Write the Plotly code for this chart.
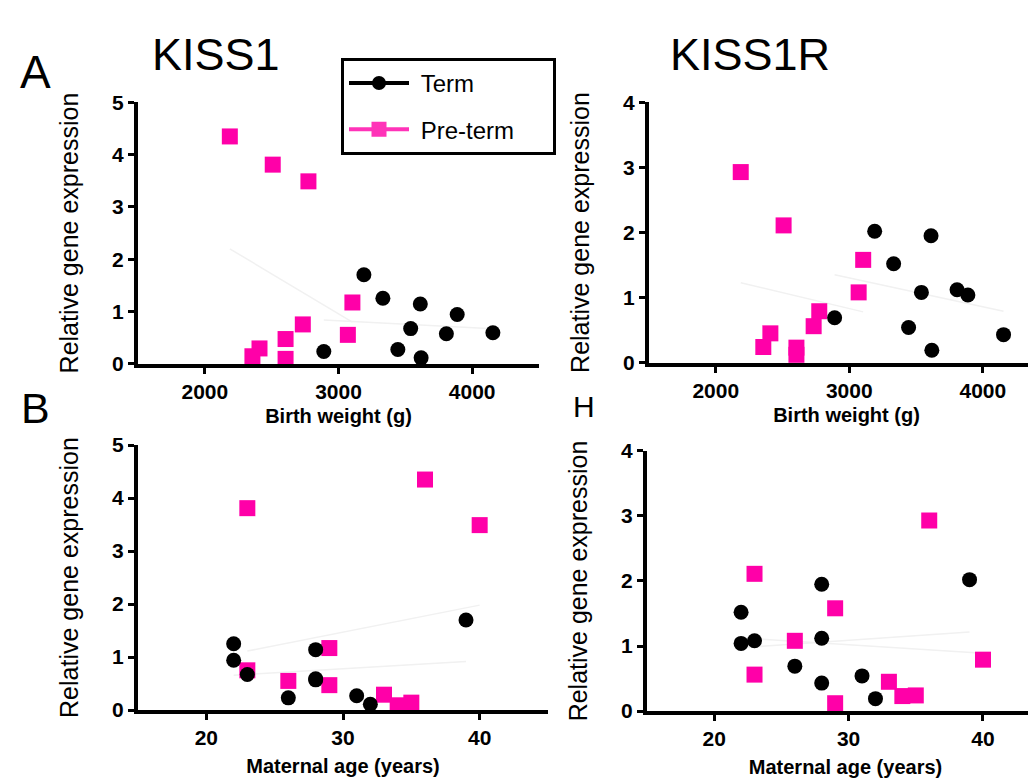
import numpy as np
import plotly.graph_objects as go

# ---- data (per sample) ----
term_bw = [3190, 3332, 3612, 3888, 3540, 3807, 4155, 3444, 3618, 2890]
term_age = [39, 22, 28, 22, 23, 28, 28, 31, 32, 26]
term_kiss1 = [1.70, 1.25, 1.14, 0.94, 0.67, 0.57, 0.59, 0.27, 0.11, 0.23]
term_kiss1r = [2.02, 1.52, 1.95, 1.04, 1.08, 1.12, 0.43, 0.54, 0.19, 0.69]

pre_bw = [2187, 2508, 2775, 3104, 3070, 2733, 2604, 2604, 2409, 2356]
pre_age = [36, 23, 40, 29, 26, 23, 29, 34, 33, 35]
pre_kiss1 = [4.35, 3.81, 3.49, 1.17, 0.55, 0.75, 0.47, 0.09, 0.29, 0.14]
pre_kiss1r = [2.93, 2.11, 0.79, 1.58, 1.08, 0.56, 0.12, 0.23, 0.45, 0.24]

bw_ticks = [2000, 3000, 4000]
age_ticks = [20, 30, 40]

W, H = 1036, 781
PINK = "#FF00A8"
FONT = "Liberation Sans, Arial, sans-serif"
NB = "\u00a0"

fig = go.Figure()

def px_x(p):
    return p / W

def px_y(p):
    return 1 - p / H

panels = [
    ("x", "y", (term_bw, pre_bw), (term_kiss1, pre_kiss1), [1500, 4500], [0, 5],
     (130, 531), (85, 354), "Birth weight (g)", bw_ticks, [0, 1, 2, 3, 4, 5], 8),
    ("x2", "y2", (term_bw, pre_bw), (term_kiss1r, pre_kiss1r), [1500, 4458], [0, 4],
     (641, 1036), (85, 353), "Birth weight (g)", bw_ticks, [0, 1, 2, 3, 4], 8),
    ("x3", "y3", (term_age, pre_age), (term_kiss1, pre_kiss1), [15, 45], [0, 5],
     (130, 540), (438, 711), "Maternal age (years)", age_ticks, [0, 1, 2, 3, 4, 5], 12),
    ("x4", "y4", (term_age, pre_age), (term_kiss1r, pre_kiss1r), [15, 44.54], [0, 4],
     (639, 1036), (444, 712), "Maternal age (years)", age_ticks, [0, 1, 2, 3, 4], 12),
]

for i, (xa, ya, xs, ys, xr, yr, xd, yd, xt, xtk, ytk, xso) in enumerate(panels):
    # faint regression lines
    for xv, yv in zip(xs, ys):
        xv = np.array(xv, float)
        yv = np.array(yv, float)
        m, b = np.polyfit(xv, yv, 1)
        lx = np.array([xv.min(), xv.max()])
        fig.add_trace(go.Scatter(x=lx, y=m * lx + b, mode="lines",
                                 line=dict(color="#f1f1f1", width=1.5),
                                 xaxis=xa, yaxis=ya, showlegend=False, hoverinfo="skip"))
    fig.add_trace(go.Scatter(x=xs[1], y=ys[1], mode="markers",
                             marker=dict(symbol="square", size=16, color=PINK),
                             xaxis=xa, yaxis=ya, showlegend=False, cliponaxis=False))
    fig.add_trace(go.Scatter(x=xs[0], y=ys[0], mode="markers",
                             marker=dict(symbol="circle", size=15, color="black"),
                             xaxis=xa, yaxis=ya, showlegend=False, cliponaxis=False))

    sfx = "" if i == 0 else str(i + 1)
    fig.layout["xaxis" + sfx] = dict(
        domain=[px_x(xd[0]), px_x(xd[1])], range=xr, anchor=ya,
        showline=True, linewidth=4, linecolor="black", mirror=False,
        ticks="outside", ticklen=6, tickwidth=3, tickcolor="black",
        tickvals=xtk, showgrid=False, zeroline=False,
        tickfont=dict(family=FONT, size=21, color="black", weight="bold"),
        title=dict(text="<b>" + xt + "</b>", standoff=xso,
                   font=dict(family=FONT, size=20, color="black")),
    )
    fig.layout["yaxis" + sfx] = dict(
        domain=[px_y(yd[1]), px_y(yd[0])], range=yr, anchor=xa,
        showline=True, linewidth=4, linecolor="black",
        ticks="outside", ticklen=6, tickwidth=3, tickcolor="black",
        tickvals=ytk, showgrid=False, zeroline=False,
        tickfont=dict(family=FONT, size=21, color="black", weight="bold"),
        title=dict(text="Relative gene expression", standoff=27,
                   font=dict(family=FONT, size=25, color="black")),
    )

# legend-only traces
fig.add_trace(go.Scatter(x=[None], y=[None], mode="lines+markers",
                         name=NB + "Term" + NB * 11,
                         line=dict(color="black", width=4),
                         marker=dict(symbol="circle", size=14, color="black"),
                         legendgroup="t"))
fig.add_trace(go.Scatter(x=[None], y=[None], mode="lines+markers",
                         name=NB + "Pre-term" + NB * 2,
                         line=dict(color="#FF33B8", width=4),
                         marker=dict(symbol="square", size=15, color="#FF33B8"),
                         legendgroup="p"))

annots = [
    dict(text="KISS1", x=208, y=36, size=45),
    dict(text="KISS1R", x=742, y=36, size=45),
    dict(text="A", x=27, y=54, size=46),
    dict(text="B", x=27, y=400, size=43),
    dict(text="H", x=576, y=398, size=30),
]
for a in annots:
    fig.add_annotation(text=a["text"], x=px_x(a["x"]), y=px_y(a["y"]),
                       xref="paper", yref="paper", xanchor="center", yanchor="middle",
                       showarrow=False, font=dict(family=FONT, size=a["size"], color="black"))

fig.update_layout(
    width=W, height=H, autosize=False,
    margin=dict(l=0, r=0, t=0, b=0),
    paper_bgcolor="white", plot_bgcolor="white",
    showlegend=True,
    legend=dict(x=px_x(333), y=px_y(39), xanchor="left", yanchor="top",
                bordercolor="black", borderwidth=3, bgcolor="white",
                font=dict(family=FONT, size=24, color="black"),
                itemwidth=60, traceorder="grouped", tracegroupgap=12),
)

fig.write_html("out.html")
